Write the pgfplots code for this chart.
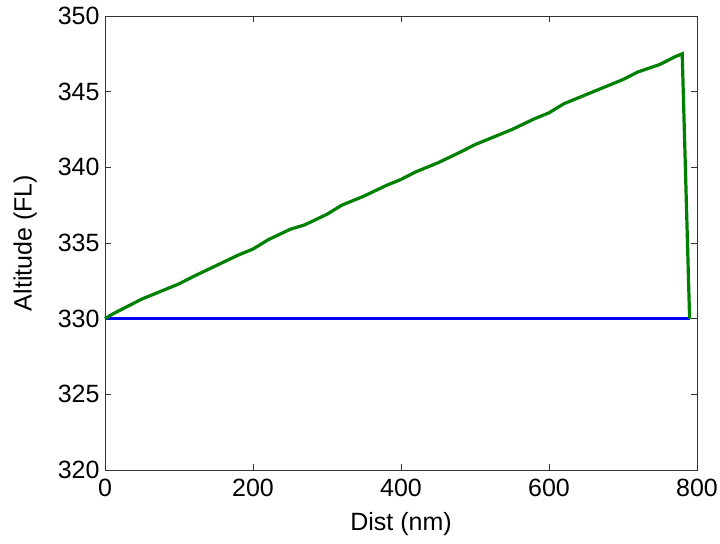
\documentclass[border=0pt]{standalone}
\usepackage{pgfplots}
\pgfplotsset{compat=1.18}
\usepackage{fontspec}
\setmainfont{Liberation Sans}
\definecolor{mgreen}{rgb}{0,0.5,0}
\begin{document}
\begin{tikzpicture}
\begin{axis}[
    name=ax,
    scale only axis,
    width=592pt, height=454pt,
    xmin=0, xmax=800, ymin=320, ymax=350,
    xtick={0,200,400,600,800},
    ytick={320,325,...,350},
    tick align=inside, tick pos=both,
    major tick length=6pt,
    axis line style={black!80, line width=0.8pt},
    tick style={black!80, line width=0.8pt},
    /pgf/number format/assume math mode=true,
    ticklabel style={font=\fontsize{25}{29}\selectfont},
    xticklabel style={yshift=-6pt},
    yticklabel style={xshift=-2pt},
    label style={font=\fontsize{25}{29}\selectfont},
    xlabel={Dist (nm)},
    ylabel={Altitude (FL)},
    xlabel style={at={(axis description cs:0.5,-0.12)}, anchor=center},
    ylabel style={at={(axis description cs:-0.135,0.5)}, anchor=center},
    clip=false,
]
\addplot[blue, line width=3.2pt] coordinates {(0,330) (790,330)};
\addplot[mgreen, line width=3.2pt] coordinates {
(0,330.0) (10,330.3) (30,330.8) (50,331.3) (70,331.7) (100,332.3)
(120,332.8) (150,333.5) (180,334.2) (200,334.6) (220,335.2) (250,335.9)
(270,336.2) (300,336.9) (320,337.5) (350,338.1) (380,338.8) (400,339.2)
(420,339.7) (450,340.3) (480,341.0) (500,341.5) (520,341.9) (550,342.5)
(580,343.2) (600,343.6) (620,344.2) (650,344.8) (670,345.2) (700,345.8)
(720,346.3) (750,346.8) (770,347.3) (780,347.5) (790,330.0)
};
\end{axis}
\pgfresetboundingbox
\useasboundingbox ([shift={(-105pt,-74pt)}]ax.south west) rectangle ([shift={(23pt,16pt)}]ax.north east);
\end{tikzpicture}
\end{document}
